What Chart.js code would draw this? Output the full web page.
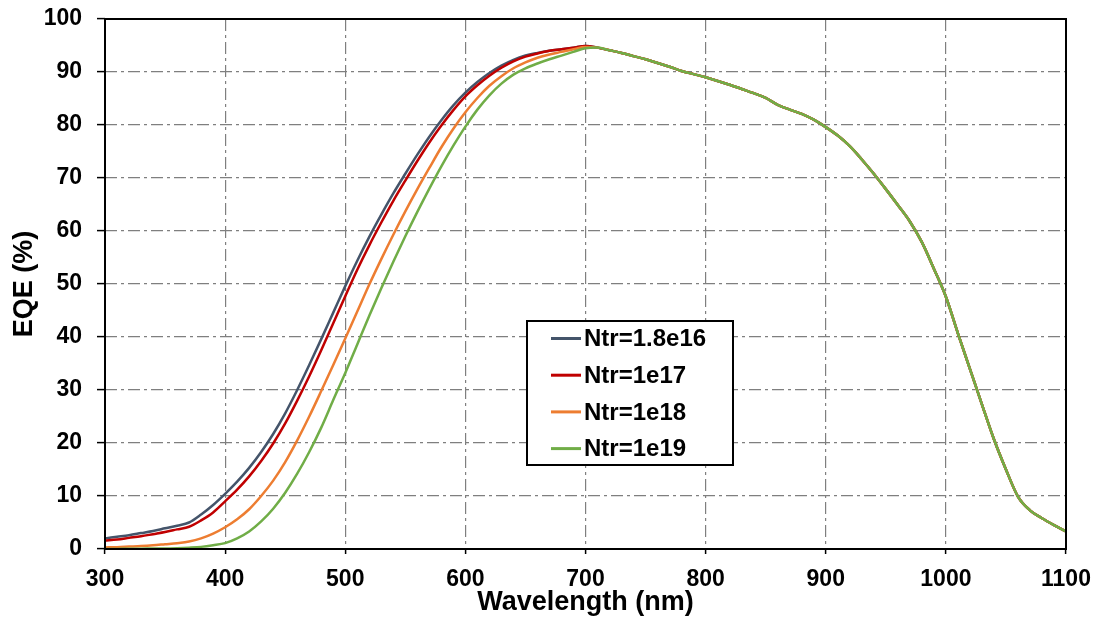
<!DOCTYPE html>
<html>
<head>
<meta charset="utf-8">
<script src="https://cdn.jsdelivr.net/npm/chart.js@4.4.1/dist/chart.umd.min.js"></script>
<style>
  html, body { margin: 0; padding: 0; background: #fff; }
  #wrap { width: 1102px; height: 622px; }
</style>
</head>
<body>
<div id="wrap"><canvas id="eqeChart" width="1102" height="622"></canvas></div>
<script>
// wavelength grid (nm)
const wavelengths = [
    300, 310, 320, 330, 340, 350, 360, 370, 380, 390,
    400, 410, 420, 430, 440, 450, 460, 470, 480, 490,
    500, 510, 520, 530, 540, 550, 560, 570, 580, 590,
    600, 610, 620, 630, 640, 650, 660, 670, 680, 690,
    700, 710, 720, 730, 740, 750, 760, 770, 780, 790,
    800, 810, 820, 830, 840, 850, 860, 870, 880, 890,
    900, 910, 920, 930, 940, 950, 960, 970, 980, 990,
    1000, 1010, 1020, 1030, 1040, 1050, 1060, 1070, 1080, 1090,
    1100
];

// EQE (%) from 300 to 700 nm, one array per trap density
const eqeNtr18e16 = [
    2.0, 2.3, 2.6, 3.0, 3.4, 3.9, 4.4, 5.0, 6.5, 8.3,
    10.4, 12.7, 15.3, 18.3, 21.7, 25.6, 30.0, 34.7, 39.6, 44.6,
    49.6, 54.4, 58.9, 63.1, 67.1, 70.8, 74.4, 77.8, 80.9, 83.7,
    86.1, 88.1, 89.8, 91.2, 92.3, 93.1, 93.6, 94.0, 94.3, 94.6,
    94.9
];
const eqeNtr1e17 = [
    1.6, 1.8, 2.1, 2.4, 2.8, 3.2, 3.7, 4.2, 5.4, 6.9,
    9.0, 11.2, 13.7, 16.6, 19.9, 23.7, 28.0, 32.6, 37.5, 42.6,
    47.7, 52.7, 57.3, 61.6, 65.7, 69.5, 73.2, 76.7, 79.9, 82.8,
    85.4, 87.5, 89.3, 90.8, 92.0, 92.9, 93.5, 94.0, 94.3, 94.6,
    94.9
];
const eqeNtr1e18 = [
    0.3, 0.35, 0.45, 0.55, 0.7, 0.9, 1.1, 1.4, 2.0, 2.9,
    4.1, 5.6, 7.5, 10.0, 12.9, 16.4, 20.5, 25.0, 29.8, 34.7,
    39.7, 44.8, 49.9, 54.7, 59.3, 63.7, 67.9, 71.9, 75.8, 79.3,
    82.4, 85.1, 87.4, 89.2, 90.7, 91.8, 92.7, 93.3, 93.8, 94.3,
    94.7
];
const eqeNtr1e19 = [
    0.0, 0.0, 0.05, 0.05, 0.1, 0.1, 0.15, 0.25, 0.4, 0.7,
    1.1, 2.0, 3.3, 5.2, 7.6, 10.6, 14.2, 18.3, 22.9, 28.1,
    33.2, 38.6, 44.0, 49.2, 54.2, 59.0, 63.6, 68.0, 72.2, 76.1,
    79.7, 82.9, 85.6, 87.8, 89.5, 90.7, 91.6, 92.4, 93.1, 93.8,
    94.5
];
// 710 - 1100 nm: the four curves lie on top of each other
const eqeTail = [
    94.6, 94.1, 93.6, 93.0, 92.4, 91.7, 91.0, 90.2, 89.6,
    89.0, 88.3, 87.6, 86.8, 86.0, 85.1, 83.8, 82.9, 82.1, 81.0,
    79.6, 78.0, 76.0, 73.5, 70.8, 67.9, 64.9, 61.8, 57.9, 52.9,
    47.6, 40.7, 34.0, 27.3, 20.7, 15.0, 9.9, 7.3, 5.8, 4.5,
    3.3
];

const seriesLabels = ['Ntr=1.8e16', 'Ntr=1e17', 'Ntr=1e18', 'Ntr=1e19'];
const seriesColors = ['#44546A', '#C00000', '#ED7D31', '#70AD47'];

function toPoints(rise) {
    const ys = rise.concat(eqeTail);
    return wavelengths.map((w, i) => ({ x: w, y: ys[i] }));
}

// black frame round the plot area
const frame = {
    id: 'frame',
    afterDraw(chart) {
        const { ctx, chartArea: a } = chart;
        ctx.save();
        ctx.strokeStyle = '#000';
        ctx.lineWidth = 2;
        ctx.strokeRect(a.left, a.top, a.right - a.left, a.bottom - a.top);
        ctx.restore();
    }
};

// legend box inside the plot
const boxLegend = {
    id: 'boxLegend',
    afterDraw(chart) {
        const ctx = chart.ctx;
        const x0 = 527, y0 = 321, w = 206, h = 144;
        ctx.save();
        ctx.fillStyle = '#fff';
        ctx.fillRect(x0, y0, w, h);
        ctx.strokeStyle = '#000';
        ctx.lineWidth = 2;
        ctx.strokeRect(x0, y0, w, h);
        ctx.font = 'bold 24px "Liberation Sans", Arial, sans-serif';
        ctx.textBaseline = 'middle';
        ctx.textAlign = 'left';
        seriesLabels.forEach((label, i) => {
            const y = 338.5 + i * 36.7;
            ctx.strokeStyle = seriesColors[i];
            ctx.lineWidth = 3;
            ctx.beginPath();
            ctx.moveTo(551, y);
            ctx.lineTo(581, y);
            ctx.stroke();
            ctx.fillStyle = '#000';
            ctx.fillText(label, 584, y + 1);
        });
        ctx.restore();
    }
};

document.addEventListener('DOMContentLoaded', () => {
    const ctx = document.getElementById('eqeChart').getContext('2d');

    const datasets = [eqeNtr18e16, eqeNtr1e17, eqeNtr1e18, eqeNtr1e19].map((rise, i) => ({
        label: seriesLabels[i],
        data: toPoints(rise),
        borderColor: seriesColors[i],
        backgroundColor: seriesColors[i],
        borderWidth: 2.5,
        pointRadius: 0,
        cubicInterpolationMode: 'monotone',
        fill: false,
        order: 4 - i
    }));

    const tickFont = { family: '"Liberation Sans", Arial, sans-serif', size: 23, weight: 'bold' };
    const titleFont = { family: '"Liberation Sans", Arial, sans-serif', size: 27, weight: 'bold' };
    const gridStyle = {
        color: '#7f7f7f',
        lineWidth: 1.2,
        tickColor: '#000',
        tickWidth: 1.5,
        tickBorderDash: []
    };
    const gridDash = [12, 4, 3, 4];
    const plainNumber = (value) => String(value);

    new Chart(ctx, {
        type: 'line',
        data: { datasets: datasets },
        plugins: [frame, boxLegend],
        options: {
            responsive: false,
            animation: false,
            layout: { padding: { left: 0, top: 19, right: 36, bottom: 0 } },
            plugins: {
                legend: { display: false },
                tooltip: { enabled: false }
            },
            scales: {
                x: {
                    type: 'linear',
                    min: 300,
                    max: 1100,
                    grid: Object.assign({}, gridStyle, { tickLength: 5 }),
                    border: { display: false, dash: gridDash },
                    ticks: { stepSize: 100, color: '#000', font: tickFont, padding: 12, maxRotation: 0, callback: plainNumber },
                    title: {
                        display: true,
                        text: 'Wavelength (nm)',
                        color: '#000',
                        font: titleFont,
                        padding: { top: 0, bottom: 3 }
                    },
                    afterFit(scale) {
                        scale.height = 73;
                        scale.paddingLeft = 0;
                        scale.paddingRight = 0;
                    }
                },
                y: {
                    min: 0,
                    max: 100,
                    grid: Object.assign({}, gridStyle, { tickLength: 8 }),
                    border: { display: false, dash: gridDash },
                    ticks: { stepSize: 10, color: '#000', font: tickFont, padding: 15, callback: plainNumber },
                    title: {
                        display: true,
                        text: 'EQE (%)',
                        color: '#000',
                        font: titleFont,
                        padding: { top: 8, bottom: 0 }
                    },
                    afterFit(scale) {
                        scale.width = 105;
                        scale.paddingTop = 0;
                        scale.paddingBottom = 0;
                    }
                }
            }
        }
    });
});
</script>
</body>
</html>
